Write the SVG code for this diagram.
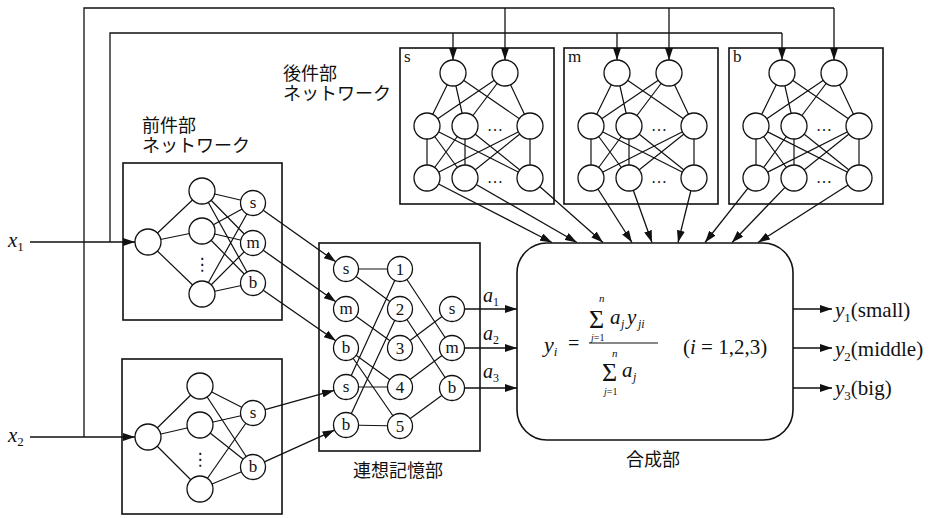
<svg xmlns="http://www.w3.org/2000/svg" width="930" height="518" viewBox="0 0 930 518">
<defs>
<marker id="ah" viewBox="0 0 12 8" refX="12" refY="4" markerWidth="12" markerHeight="8" markerUnits="userSpaceOnUse" orient="auto"><path d="M0,0 L12,4 L0,8 z" fill="#111"/></marker>
</defs>
<style>
.bx{fill:none;stroke:#111;stroke-width:1.6}
.ln{stroke:#111;stroke-width:1.2;fill:none}
.nd{fill:#fff;stroke:#111;stroke-width:1.3}
.ar{stroke:#111;stroke-width:1.3;fill:none;marker-end:url(#ah)}
.wire{stroke:#111;stroke-width:1.3;fill:none}
.t{font-family:"Liberation Serif","DejaVu Serif",serif;fill:#111}
.it{font-style:italic}
.jp{font-family:"Noto Sans CJK JP","Noto Sans CJK SC",sans-serif;font-size:18px;fill:#111}
.lb{font-family:"Liberation Serif","DejaVu Serif",serif;font-size:17px;text-anchor:middle;fill:#111}
.dots{font-family:"Liberation Serif","DejaVu Serif",serif;font-size:16px;text-anchor:middle;fill:#111}
</style>
<rect width="930" height="518" fill="#fff"/>

<!-- connectors -->
<g id="connectors">
  <path class="ar" d="M30,242 L135,242"/>
  <path class="ar" d="M30,437 L135,437"/>
  <path class="wire" d="M110,242 L110,33 L782,33"/>
  <path class="wire" d="M84,437 L84,8 L834,8"/>
  <path class="ar" d="M453,33 L453,60"/>
  <path class="ar" d="M617,33 L617,60"/>
  <path class="ar" d="M782,33 L782,60"/>
  <path class="ar" d="M505,8 L505,60"/>
  <path class="ar" d="M669,8 L669,60"/>
  <path class="ar" d="M834,8 L834,60"/>
  <path class="ar" d="M263.2,210.2 L335.8,261.8"/>
  <path class="ar" d="M263.2,250.2 L335.8,301.8"/>
  <path class="ar" d="M263.2,290.2 L335.8,340.8"/>
  <path class="ar" d="M265,409.6 L334,390.4"/>
  <path class="ar" d="M264.4,461.9 L334.6,430.1"/>
  <path class="ar" d="M465,309 L517,309"/>
  <path class="ar" d="M465,348 L517,348"/>
  <path class="ar" d="M465,388 L517,388"/>
  <path class="ar" d="M438.5,184 L552,242.5"/>
  <path class="ar" d="M476.2,184.5 L577,242.5"/>
  <path class="ar" d="M539.7,186.6 L603,242.5"/>
  <path class="ar" d="M597.9,189 L632,242.5"/>
  <path class="ar" d="M633.3,190.3 L652,242.5"/>
  <path class="ar" d="M690.9,190.6 L678,242.5"/>
  <path class="ar" d="M748,188.2 L705,242.5"/>
  <path class="ar" d="M785,187.4 L732,242.5"/>
  <path class="ar" d="M848.1,185 L758,242.5"/>
  <path class="ar" d="M793,309 L832,309"/>
  <path class="ar" d="M793,348 L832,348"/>
  <path class="ar" d="M793,388 L832,388"/>
</g>

<g id="input-x1"><text class="t" x="8" y="247" font-size="21"><tspan class="it">x</tspan><tspan font-size="13" dy="4">1</tspan></text></g>
<g id="input-x2"><text class="t" x="8" y="442" font-size="21"><tspan class="it">x</tspan><tspan font-size="13" dy="4">2</tspan></text></g>

<g id="antecedent-x1">
  <rect class="bx" x="123" y="163" width="159" height="157"/>
  <path class="ln" d="M148,242 L202,191 M148,242 L202,231 M148,242 L202,294
    M202,191 L253,203 M202,191 L253,243 M202,191 L253,283
    M202,231 L253,203 M202,231 L253,243 M202,231 L253,283
    M202,294 L253,203 M202,294 L253,243 M202,294 L253,283"/>
  <circle class="nd" cx="148" cy="242" r="13"/>
  <circle class="nd" cx="202" cy="191" r="13"/>
  <circle class="nd" cx="202" cy="231" r="13"/>
  <circle class="nd" cx="202" cy="294" r="13"/>
  <circle class="nd" cx="253" cy="203" r="12.5"/>
  <circle class="nd" cx="253" cy="243" r="12.5"/>
  <circle class="nd" cx="253" cy="283" r="12.5"/>
  <text class="lb" x="253" y="208">s</text>
  <text class="lb" x="253" y="248">m</text>
  <text class="lb" x="253" y="288">b</text>
  <text x="202" y="270" font-family="DejaVu Sans,sans-serif" font-size="17" text-anchor="middle" fill="#111">⋮</text>
</g>

<g id="antecedent-x2">
  <rect class="bx" x="122" y="359" width="160" height="155"/>
  <path class="ln" d="M148,437 L200,386 M148,437 L200,425 M148,437 L200,489
    M200,386 L253,413 M200,386 L253,467
    M200,425 L253,413 M200,425 L253,467
    M200,489 L253,413 M200,489 L253,467"/>
  <circle class="nd" cx="148" cy="437" r="13"/>
  <circle class="nd" cx="200" cy="386" r="13"/>
  <circle class="nd" cx="200" cy="425" r="13"/>
  <circle class="nd" cx="200" cy="489" r="13"/>
  <circle class="nd" cx="253" cy="413" r="12.5"/>
  <circle class="nd" cx="253" cy="467" r="12.5"/>
  <text class="lb" x="253" y="418">s</text>
  <text class="lb" x="253" y="472">b</text>
  <text x="200" y="465" font-family="DejaVu Sans,sans-serif" font-size="17" text-anchor="middle" fill="#111">⋮</text>
</g>

<g id="memory">
  <rect class="bx" x="319" y="243" width="161" height="208"/>
  <path class="ln" d="M346,269 L400,269 M346,269 L400,309 M346,309 L400,348
    M346,348 L400,387 M346,348 L400,426 M346,387 L400,387 M346,387 L400,269
    M346,425 L400,426 M346,425 L400,309
    M400,269 L452,348 M400,309 L452,388 M400,348 L452,309 M400,387 L452,348 M400,426 L452,388"/>
  <circle class="nd" cx="346" cy="269" r="12.5"/>
  <circle class="nd" cx="346" cy="309" r="12.5"/>
  <circle class="nd" cx="346" cy="348" r="12.5"/>
  <circle class="nd" cx="346" cy="387" r="12.5"/>
  <circle class="nd" cx="346" cy="425" r="12.5"/>
  <circle class="nd" cx="400" cy="269" r="12.5"/>
  <circle class="nd" cx="400" cy="309" r="12.5"/>
  <circle class="nd" cx="400" cy="348" r="12.5"/>
  <circle class="nd" cx="400" cy="387" r="12.5"/>
  <circle class="nd" cx="400" cy="426" r="12.5"/>
  <circle class="nd" cx="452" cy="309" r="12.5"/>
  <circle class="nd" cx="452" cy="348" r="12.5"/>
  <circle class="nd" cx="452" cy="388" r="12.5"/>
  <text class="lb" x="346" y="274">s</text>
  <text class="lb" x="346" y="314">m</text>
  <text class="lb" x="346" y="353">b</text>
  <text class="lb" x="346" y="392">s</text>
  <text class="lb" x="346" y="430">b</text>
  <text class="lb" x="400" y="275" font-size="18">1</text>
  <text class="lb" x="400" y="315" font-size="18">2</text>
  <text class="lb" x="400" y="354" font-size="18">3</text>
  <text class="lb" x="400" y="393" font-size="18">4</text>
  <text class="lb" x="400" y="432" font-size="18">5</text>
  <text class="lb" x="452" y="314">s</text>
  <text class="lb" x="452" y="353">m</text>
  <text class="lb" x="452" y="393">b</text>
  <text class="jp" x="398" y="477" text-anchor="middle" font-size="19">連想記憶部</text>
</g>

<g id="weights">
  <text class="t" x="483" y="302" font-size="20"><tspan class="it">a</tspan><tspan font-size="12" dy="4">1</tspan></text>
  <text class="t" x="483" y="340" font-size="20"><tspan class="it">a</tspan><tspan font-size="12" dy="4">2</tspan></text>
  <text class="t" x="483" y="378" font-size="20"><tspan class="it">a</tspan><tspan font-size="12" dy="4">3</tspan></text>
</g>

<g id="consequent-s">
  <rect class="bx" x="400" y="48" width="154" height="156"/>
  <path class="ln" d="M453,73 L427,126 M453,73 L465,126 M453,73 L530,126 M505,73 L427,126 M505,73 L465,126 M505,73 L530,126
    M427,126 L427,178 M427,126 L465,178 M427,126 L530,178
    M465,126 L427,178 M465,126 L465,178 M465,126 L530,178
    M530,126 L427,178 M530,126 L465,178 M530,126 L530,178"/>
  <circle class="nd" cx="453" cy="73" r="13"/>
  <circle class="nd" cx="505" cy="73" r="13"/>
  <circle class="nd" cx="427" cy="126" r="13"/>
  <circle class="nd" cx="465" cy="126" r="13"/>
  <circle class="nd" cx="530" cy="126" r="13"/>
  <circle class="nd" cx="427" cy="178" r="13"/>
  <circle class="nd" cx="465" cy="178" r="13"/>
  <circle class="nd" cx="530" cy="178" r="13"/>
  <text class="dots" x="495" y="131">…</text>
  <text class="dots" x="495" y="183">…</text>
  <text class="t" x="404" y="62" font-size="17">s</text>
</g>
<g id="consequent-m" transform="translate(164,0)">
  <rect class="bx" x="400" y="48" width="154" height="156"/>
  <path class="ln" d="M453,73 L427,126 M453,73 L465,126 M453,73 L530,126 M505,73 L427,126 M505,73 L465,126 M505,73 L530,126
    M427,126 L427,178 M427,126 L465,178 M427,126 L530,178
    M465,126 L427,178 M465,126 L465,178 M465,126 L530,178
    M530,126 L427,178 M530,126 L465,178 M530,126 L530,178"/>
  <circle class="nd" cx="453" cy="73" r="13"/>
  <circle class="nd" cx="505" cy="73" r="13"/>
  <circle class="nd" cx="427" cy="126" r="13"/>
  <circle class="nd" cx="465" cy="126" r="13"/>
  <circle class="nd" cx="530" cy="126" r="13"/>
  <circle class="nd" cx="427" cy="178" r="13"/>
  <circle class="nd" cx="465" cy="178" r="13"/>
  <circle class="nd" cx="530" cy="178" r="13"/>
  <text class="dots" x="495" y="131">…</text>
  <text class="dots" x="495" y="183">…</text>
  <text class="t" x="404" y="62" font-size="17">m</text>
</g>
<g id="consequent-b" transform="translate(329,0)">
  <rect class="bx" x="400" y="48" width="154" height="156"/>
  <path class="ln" d="M453,73 L427,126 M453,73 L465,126 M453,73 L530,126 M505,73 L427,126 M505,73 L465,126 M505,73 L530,126
    M427,126 L427,178 M427,126 L465,178 M427,126 L530,178
    M465,126 L427,178 M465,126 L465,178 M465,126 L530,178
    M530,126 L427,178 M530,126 L465,178 M530,126 L530,178"/>
  <circle class="nd" cx="453" cy="73" r="13"/>
  <circle class="nd" cx="505" cy="73" r="13"/>
  <circle class="nd" cx="427" cy="126" r="13"/>
  <circle class="nd" cx="465" cy="126" r="13"/>
  <circle class="nd" cx="530" cy="126" r="13"/>
  <circle class="nd" cx="427" cy="178" r="13"/>
  <circle class="nd" cx="465" cy="178" r="13"/>
  <circle class="nd" cx="530" cy="178" r="13"/>
  <text class="dots" x="495" y="131">…</text>
  <text class="dots" x="495" y="183">…</text>
  <text class="t" x="404" y="62" font-size="17">b</text>
</g>

<g id="labels">
  <text class="jp"><tspan x="283" y="80">後件部</tspan><tspan x="283" y="100">ネットワーク</tspan></text>
  <text class="jp"><tspan x="142" y="132">前件部</tspan><tspan x="142" y="152">ネットワーク</tspan></text>
</g>

<g id="synthesis">
  <rect class="bx" x="517" y="243" width="276" height="197" rx="30"/>
  <text class="t" x="544" y="352" font-size="22"><tspan class="it">y</tspan><tspan class="it" font-size="13" dy="4">i</tspan></text>
  <text class="t" x="568" y="350" font-size="20">=</text>
  <line class="ln" x1="589" y1="343" x2="658" y2="343"/>
  <text class="t" font-size="21"><tspan x="589" y="328" font-size="26">Σ</tspan><tspan x="599" y="302" font-size="11" class="it">n</tspan><tspan x="591" y="341" font-size="10" class="it">j</tspan><tspan font-size="10">=1</tspan><tspan x="610" y="324" class="it">a</tspan><tspan x="621" y="328" font-size="12" class="it">j</tspan><tspan x="627" y="324" class="it">y</tspan><tspan x="638" y="328" font-size="12" class="it">ji</tspan></text>
  <text class="t" font-size="21"><tspan x="602" y="381" font-size="26">Σ</tspan><tspan x="612" y="357" font-size="11" class="it">n</tspan><tspan x="604" y="395" font-size="10" class="it">j</tspan><tspan font-size="10">=1</tspan><tspan x="622" y="377" class="it">a</tspan><tspan x="633" y="381" font-size="12" class="it">j</tspan></text>
  <text class="t" x="683" y="354" font-size="21">(<tspan class="it">i</tspan> = 1,2,3)</text>
  <text class="jp" x="653" y="466" text-anchor="middle" font-size="19">合成部</text>
</g>

<g id="outputs">
  <text class="t" x="835" y="317" font-size="21"><tspan class="it">y</tspan><tspan font-size="13" dy="5">1</tspan><tspan dy="-5">(small)</tspan></text>
  <text class="t" x="835" y="356" font-size="21"><tspan class="it">y</tspan><tspan font-size="13" dy="5">2</tspan><tspan dy="-5">(middle)</tspan></text>
  <text class="t" x="835" y="395" font-size="21"><tspan class="it">y</tspan><tspan font-size="13" dy="5">3</tspan><tspan dy="-5">(big)</tspan></text>
</g>
</svg>
